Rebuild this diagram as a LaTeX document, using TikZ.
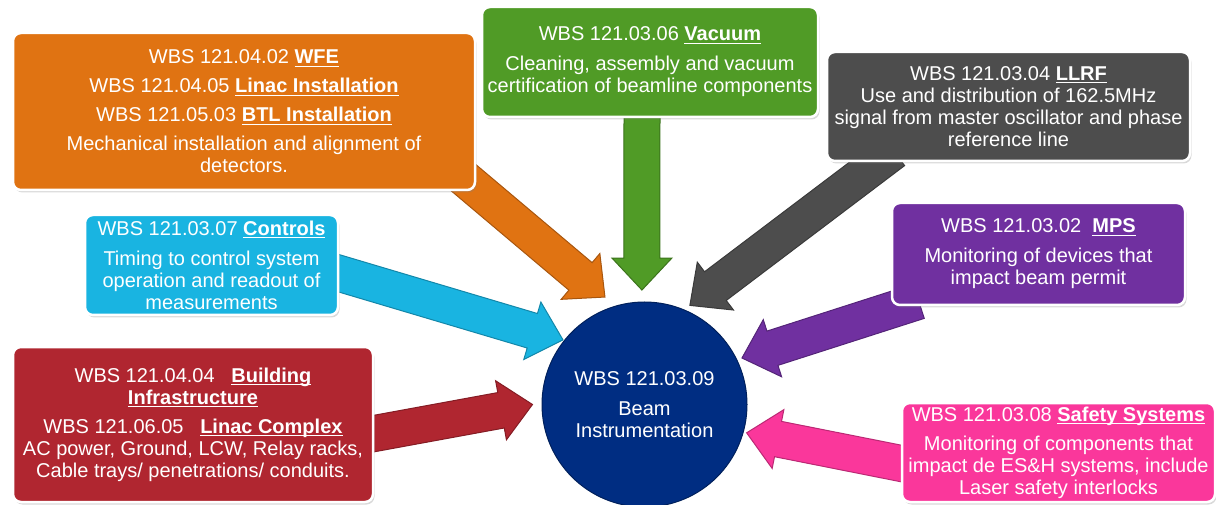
\documentclass[tikz,border=0pt]{standalone}
\usepackage{fontspec}
\setmainfont{Liberation Sans}
\usepackage{tikz}
\usetikzlibrary{calc,shadows,backgrounds}

\definecolor{wfecol}{RGB}{224,115,18}
\definecolor{vaccol}{RGB}{80,155,38}
\definecolor{llrfcol}{RGB}{77,77,77}
\definecolor{ctrlcol}{RGB}{25,180,225}
\definecolor{mpscol}{RGB}{112,48,160}
\definecolor{bldgcol}{RGB}{176,38,48}
\definecolor{safecol}{RGB}{250,55,155}
\definecolor{beamcol}{RGB}{0,45,130}

% block arrow from #1 to #2
\newcommand{\bigarrow}[3]{%
  \coordinate (#1-b) at ($(#2)!32pt!(#1)$);
  \draw[draw=#3!75!black, fill=#3, line width=1pt, line join=miter]
    ($(#1)!18pt!90:(#2)$) -- ($(#1-b)!18pt!-90:(#1)$) -- ($(#1-b)!30pt!-90:(#1)$)
    -- (#2) -- ($(#1-b)!30pt!90:(#1)$) -- ($(#1-b)!18pt!90:(#1)$)
    -- ($(#1)!18pt!-90:(#2)$) -- cycle;}
% bold title, underlined
\newsavebox{\ttlbox}
\newcommand{\ttl}[1]{\sbox{\ttlbox}{\textbf{#1}}\rlap{\rule[-3pt]{\wd\ttlbox}{1.2pt}}\usebox{\ttlbox}}

\begin{document}
\begin{tikzpicture}[x=1pt,y=1pt,
    box/.style={rounded corners=8pt, draw=white, line width=2.5pt, text=white,
      align=center, inner sep=0pt, font={\fontsize{20}{22}\selectfont},
      drop shadow={opacity=0.3, shadow xshift=1.5pt, shadow yshift=-2.5pt}}]
  \useasboundingbox (0,0) rectangle (1216,504);

  % 盒子
  \node[box, fill=wfecol, minimum width=462pt, minimum height=157pt] (wfe) at (244,392.5)
    {WBS 121.04.02 \ttl{WFE}\\[7pt] WBS 121.04.05 \ttl{Linac Installation}\\[7pt]
     WBS 121.05.03 \ttl{BTL Installation}\\[7pt] Mechanical installation and alignment of\\ detectors.};
  \node[box, fill=vaccol, minimum width=336pt, minimum height=110pt] (vac) at (650,442)
    {WBS 121.03.06 \ttl{Vacuum}\\[8pt] Cleaning, assembly and vacuum\\ certification of beamline components};
  \node[box, fill=llrfcol, minimum width=363pt, minimum height=109pt] (llrf) at (1008.5,397.5)
    {WBS 121.03.04 \ttl{LLRF}\\ Use and distribution of 162.5MHz\\ signal from master oscillator and phase\\ reference line};
  \node[box, fill=ctrlcol, minimum width=253pt, minimum height=100pt] (ctrl) at (211.5,239)
    {WBS 121.03.07 \ttl{Controls}\\[8pt] Timing to control system\\ operation and readout of\\ measurements};
  \node[box, fill=mpscol, minimum width=293pt, minimum height=102pt] (mps) at (1038.5,250)
    {WBS 121.03.02\ \ \ttl{MPS}\\[8pt] Monitoring of devices that\\ impact beam permit};
  \node[box, fill=bldgcol, minimum width=360pt, minimum height=155pt] (bldg) at (193,79.5)
    {WBS 121.04.04\ \ \ \ttl{Building}\\ \ttl{Infrastructure}\\[7pt] WBS 121.06.05\ \ \ \ttl{Linac Complex}\\
     AC power, Ground, LCW, Relay racks,\\ Cable trays/ penetrations/ conduits.};
  \node[box, fill=safecol, minimum width=313pt, minimum height=99pt] (safety) at (1058.5,51.5)
    {WBS 121.03.08 \ttl{Safety Systems}\\[7pt] Monitoring of components that\\ impact de ES\&H systems, include\\ Laser safety interlocks};

  % 中心圆
  \node[circle, fill=beamcol, draw=beamcol!70!black, line width=1pt, minimum size=205pt,
    text=white, align=center, font={\fontsize{20}{22}\selectfont}] (beam) at (644.5,99.5)
    {WBS 121.03.09\\[8pt] Beam\\ Instrumentation};

  % 箭头
  \coordinate (wfe-t) at ($(wfe.south east)+(-18,18)$);
  \coordinate (wfe-h) at ($(beam.center)+(110.2:114.5)$);
  \coordinate (vac-t) at ($(vac.south)+(-8,7)$);
  \coordinate (vac-h) at ($(beam.center)+(91.3:114.5)$);
  \coordinate (llrf-t) at ($(llrf.south west)+(68,11)$);
  \coordinate (llrf-h) at ($(beam.center)+(65.4:109)$);
  \coordinate (ctrl-t) at ($(ctrl.east)+(-8,-6)$);
  \coordinate (ctrl-h) at ($(beam.center)+(141.6:104)$);
  \coordinate (bldg-t) at ($(bldg.east)+(-8,-10.5)$);
  \coordinate (bldg-h) at ($(beam.center)+(180:112)$);
  \coordinate (mps-t) at ($(mps.south west)+(28,5)$);
  \coordinate (mps-h) at ($(beam.center)+(25.5:108)$);
  \coordinate (safety-t) at ($(safety.west)+(8,-12.5)$);
  \coordinate (safety-h) at ($(beam.center)+(-15.5:106)$);
  \begin{pgfonlayer}{background}
    \bigarrow{wfe-t}{wfe-h}{wfecol}
    \bigarrow{vac-t}{vac-h}{vaccol}
    \bigarrow{llrf-t}{llrf-h}{llrfcol}
    \bigarrow{ctrl-t}{ctrl-h}{ctrlcol}
    \bigarrow{bldg-t}{bldg-h}{bldgcol}
    \bigarrow{mps-t}{mps-h}{mpscol}
    \bigarrow{safety-t}{safety-h}{safecol}
  \end{pgfonlayer}
\end{tikzpicture}
\end{document}
